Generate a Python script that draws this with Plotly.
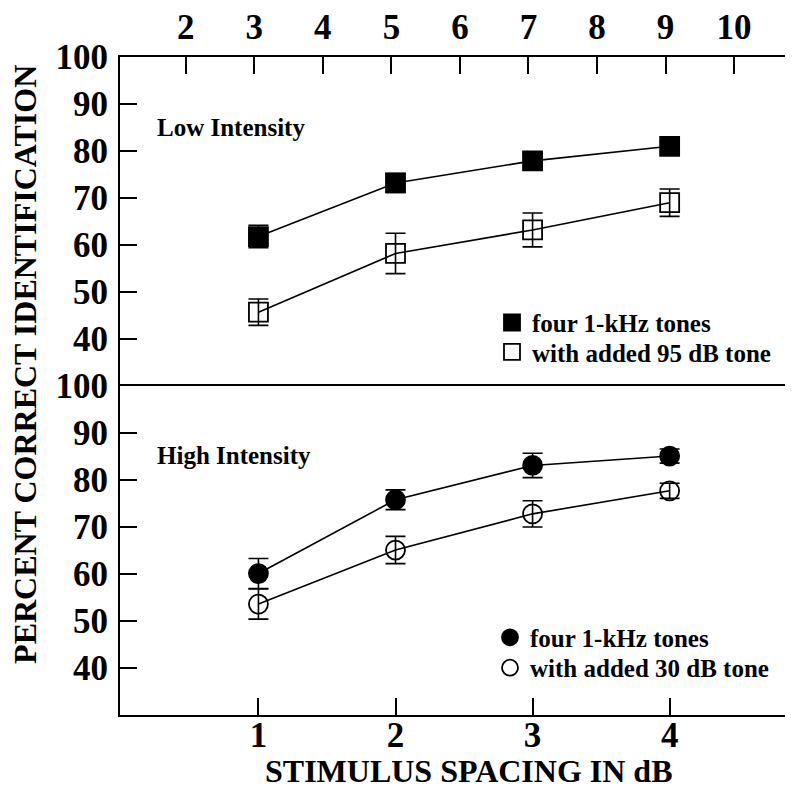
import plotly.graph_objects as go

# ---- data ----
spacing = [1, 2, 3, 4]  # stimulus spacing in dB (bottom axis)
top_ticks = [2, 3, 4, 5, 6, 7, 8, 9, 10]
y_ticks = [40, 50, 60, 70, 80, 90, 100]

low_filled = [61.8, 73.2, 77.9, 81.0]
low_filled_err = [2.4, 2.0, 1.5, 1.0]
low_open = [45.7, 58.2, 63.2, 69.0]
low_open_err = [2.8, 4.3, 3.6, 2.9]

high_filled = [60.1, 75.8, 83.1, 85.1]
high_filled_err = [3.2, 2.1, 2.6, 1.5]
high_open = [53.6, 65.1, 72.8, 77.7]
high_open_err = [3.2, 2.9, 2.8, 1.6]

names_low = ["four 1-kHz tones", "with added 95 dB tone"]
names_high = ["four 1-kHz tones", "with added 30 dB tone"]

SERIF = "Liberation Serif"
TICKF = dict(family=SERIF, size=35, color="black", weight="bold")
BLK = "black"

# page body has an 8px margin: work in figure coordinates = screen - 8
W, H = 785, 781
L, R, T, B = 112, 0, 36, 74
PW, PH = W - L - R, H - T - B


def px(sx):
    return (sx - 8 - L) / PW


def py(sy):
    return 1 - (sy - 8 - T) / PH


fig = go.Figure()


def add_series(y, err, yaxis, symbol, name, legend):
    fig.add_trace(go.Scatter(
        x=spacing, y=y, yaxis=yaxis, mode="lines",
        line=dict(color=BLK, width=1.6), showlegend=False, hoverinfo="skip"))
    fig.add_trace(go.Scatter(
        x=spacing, y=y, yaxis=yaxis, mode="markers", name=name, legend=legend,
        marker=dict(symbol=symbol, size=19, color=BLK, line=dict(color=BLK, width=1.8)),
        error_y=dict(type="data", array=err, visible=True, color=BLK, thickness=1.6, width=10)))


add_series(low_filled, low_filled_err, "y2", "square", names_low[0], "legend")
add_series(low_open, low_open_err, "y2", "square-open", names_low[1], "legend2")
add_series(high_filled, high_filled_err, "y", "circle", names_high[0], "legend3")
add_series(high_open, high_open_err, "y", "circle-open", names_high[1], "legend4")

# invisible trace to create the top-axis subplot
fig.add_trace(go.Scatter(x=[2 * s + 1 for s in spacing], y=low_filled, xaxis="x2", yaxis="y2",
                         mode="markers", marker=dict(opacity=0), showlegend=False, hoverinfo="skip"))

xr = [-0.01, 4.9]
axis_common = dict(showline=True, linecolor=BLK, linewidth=2, ticks="inside", ticklen=17,
                   tickwidth=1.6, tickcolor=BLK, showgrid=False, zeroline=False, tickfont=TICKF)

leg_font = dict(family=SERIF, size=25, color=BLK, weight="bold")


def leg(sx, sy):
    return dict(x=px(sx), y=py(sy), xanchor="left", yanchor="middle", bgcolor="rgba(0,0,0,0)",
                font=leg_font, itemsizing="trace", borderwidth=0)


fig.update_layout(
    width=W, height=H,
    margin=dict(l=L, r=R, t=T, b=B),
    paper_bgcolor="white", plot_bgcolor="white",
    xaxis=dict(range=xr, tickvals=spacing, anchor="y", mirror=True, ticklabelstandoff=-12, **axis_common),
    xaxis2=dict(range=[2 * xr[0] + 1.06, 2 * xr[1] + 1.06], tickvals=top_ticks, anchor="y2", side="top",
                overlaying="x", ticklabelstandoff=2, **axis_common),
    yaxis=dict(domain=[0, 0.5], range=[30, 100], tickvals=y_ticks, ticklabelstandoff=3, **axis_common),
    yaxis2=dict(domain=[0.5, 1], range=[30, 100], tickvals=y_ticks, ticklabelstandoff=3, **axis_common),
    legend=leg(492, 315),
    legend2=leg(492, 345),
    legend3=leg(490, 636),
    legend4=leg(490, 667),
    showlegend=True,
)

ann_font = dict(family=SERIF, size=25, color=BLK, weight="bold")
fig.add_annotation(text="Low Intensity", xref="paper", yref="paper", x=px(155), y=py(116),
                   xanchor="left", yanchor="middle", showarrow=False, font=ann_font)
fig.add_annotation(text="High Intensity", xref="paper", yref="paper", x=px(155), y=py(450),
                   xanchor="left", yanchor="middle", showarrow=False, font=ann_font)

title_font = dict(family=SERIF, size=32, color=BLK, weight="bold")
fig.add_annotation(text="STIMULUS SPACING IN dB", xref="paper", yref="paper", x=px(469), y=py(772),
                   xanchor="center", yanchor="middle", showarrow=False, font=title_font)
fig.add_annotation(text="PERCENT CORRECT IDENTIFICATION", xref="paper", yref="paper", x=px(25),
                   y=py(358), xanchor="center", yanchor="middle", textangle=-90,
                   showarrow=False, font=title_font)

fig.write_html("out.html")
